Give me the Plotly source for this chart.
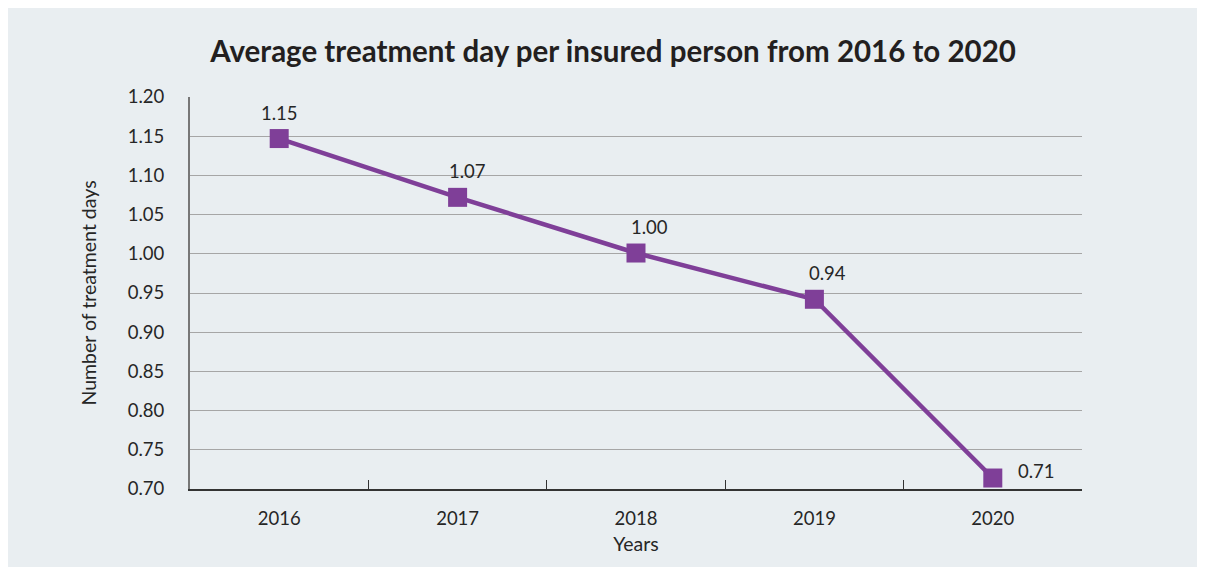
import plotly.graph_objects as go

years = ["2016", "2017", "2018", "2019", "2020"]
values = [1.147, 1.072, 1.001, 0.942, 0.714]

title_text = "Average treatment day per insured person from 2016 to 2020"
x_title = "Years"
y_title = "Number of treatment days"

# label offsets (pixels) relative to each marker
label_xshift = [0, 10, 13, 13, 44]
label_yshift = [26, 26, 26, 26, 7]

BG = "#e9eef1"
PURPLE = "#7f3f98"
TXT = "#262626"
FONT = "Lato, Open Sans, sans-serif"

fig = go.Figure()
fig.add_trace(go.Scatter(
    x=years, y=values,
    mode="lines+markers",
    line=dict(color=PURPLE, width=4.5),
    marker=dict(symbol="square", size=19, color=PURPLE),
    cliponaxis=False,
    showlegend=False,
))

# on a category axis, annotation x is the category's serial index
for i, (v, dx, dy) in enumerate(zip(values, label_xshift, label_yshift)):
    fig.add_annotation(x=i, y=v, text=f"{v:.2f}", showarrow=False,
                       xshift=dx, yshift=dy, xanchor="center", yanchor="middle",
                       font=dict(size=18.5, color=TXT, family=FONT))

# page body has an 8px margin, so the figure is drawn 8px in from the top-left
OFF = 8
W, H = 1205 - OFF, 567 - OFF
L, R, T, B = 190 - OFF, 123, 97 - OFF, 78

fig.update_layout(
    width=W, height=H,
    margin=dict(l=L, r=R, t=T, b=B),
    paper_bgcolor=BG,
    plot_bgcolor=BG,
    font=dict(family=FONT, color=TXT),
    title=dict(text=f"<b>{title_text}</b>", x=0.5055, xanchor="center",
               y=1 - (52 - OFF) / H, yanchor="middle",
               font=dict(size=29.5, color="#231f20", family=FONT)),
)
fig.update_xaxes(
    type="category", range=[-0.5, len(years) - 0.5],
    showline=True, linecolor="#333333", linewidth=2,
    ticks="inside", tickson="boundaries", ticklen=9, tickcolor="#333333", tickwidth=1,
    showgrid=False, ticklabelstandoff=12, tickangle=0,
    tickfont=dict(size=18.5, color=TXT),
    title=dict(text=x_title, font=dict(size=19.5, color=TXT), standoff=9),
)
fig.update_yaxes(
    range=[0.70, 1.20], dtick=0.05, tickformat=".2f",
    showline=True, linecolor="#777777", linewidth=2,
    showgrid=True, gridcolor="#a6a6a6", gridwidth=1.2,
    ticks="", ticklabelstandoff=20,
    tickfont=dict(size=18.5, color=TXT),
    title=dict(text=y_title, font=dict(size=19.5, color=TXT), standoff=26),
    zeroline=False,
)

fig.write_html("out.html")
